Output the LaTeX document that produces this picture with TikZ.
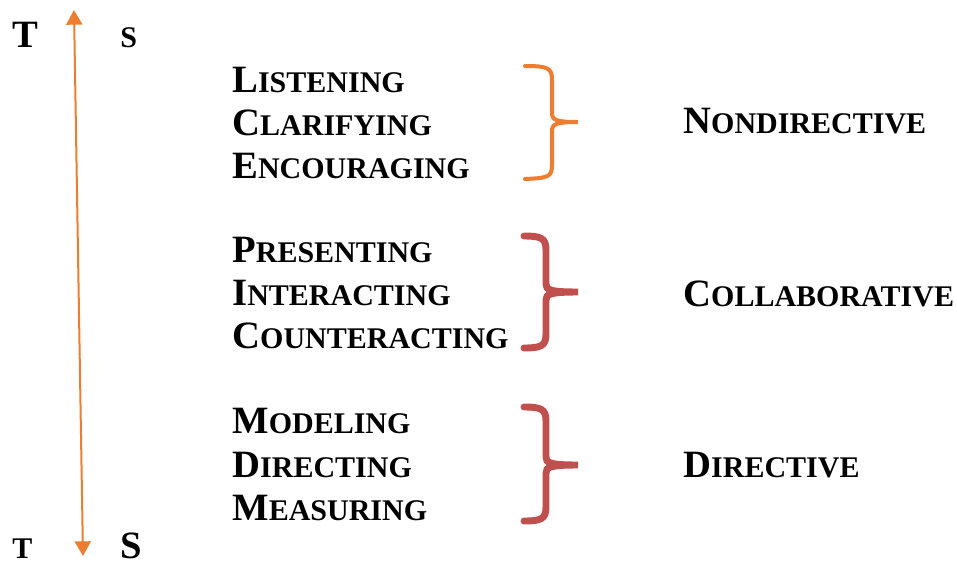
\documentclass[tikz,border=0pt]{standalone}
\usepackage{fontspec}
\setmainfont{Liberation Serif}
\usepackage{xcolor}
\usetikzlibrary{arrows.meta}

\definecolor{accorange}{HTML}{ED7D31}
\definecolor{accred}{HTML}{C0504D}

% faked small caps: first letter full size, the rest smaller
\newcommand{\capfull}{\fontsize{29}{34}\selectfont\bfseries}
\newcommand{\capsmall}{\fontsize{22.5}{27}\selectfont\bfseries}
\newcommand{\fsc}[2]{{\capfull #1}{\capsmall #2}}

\tikzset{
  word/.style = {anchor = base west, inner sep = 0pt},
  thinbrace/.style = {draw = accorange, line width = 3pt, line cap = round},
  thickbrace/.style = {draw = accred, line width = 5.2pt, line cap = round}
}

\begin{document}
\begin{tikzpicture}[x = 0.75pt, y = -0.75pt]
        \useasboundingbox (0,0) rectangle (957,565);

        % scale on the left
        \coordinate (top) at (74,10);
        \coordinate (bottom) at (83,556);
        \draw[accorange, line width = 1.5pt, {Triangle[width=12pt,length=11pt]}-{Triangle[width=12pt,length=11pt]}] (top) -- (bottom);
        \node[word] (tTop) at (12,47) {\capfull T};
        \node[word] (sTop) at (120,47) {\capsmall S};
        \node[word] (tBot) at (12,558) {\capsmall T};
        \node[word] (sBot) at (120,558) {\capfull S};

        % behaviours
        \node[word] (listen) at (232,92) {\fsc{L}{ISTENING}};
        \node[word] (clarify) at (232,135) {\fsc{C}{LARIFYING}};
        \node[word] (encourage) at (232,178) {\fsc{E}{NCOURAGING}};

        \node[word] (present) at (232,262) {\fsc{P}{RESENTING}};
        \node[word] (interact) at (232,305) {\fsc{I}{NTERACTING}};
        \node[word] (counter) at (232,348) {\fsc{C}{OUNTERACTING}};

        \node[word] (model) at (232,433) {\fsc{M}{ODELING}};
        \node[word] (direct) at (232,477) {\fsc{D}{IRECTING}};
        \node[word] (measure) at (232,520) {\fsc{M}{EASURING}};

        % braces
        \draw[thinbrace] (525,66) .. controls (548,66) and (552,68) .. (552,80) -- (552,113)
            .. controls (552,120) and (556,122) .. (578,122)
            .. controls (556,122) and (552,124) .. (552,131) -- (552,165)
            .. controls (552,177) and (548,178) .. (525,179);
        \draw[thickbrace] (524,236) .. controls (541,236) and (546,238) .. (546,250) -- (546,284)
            .. controls (546,290) and (550,292) .. (578,292)
            .. controls (550,292) and (546,294) .. (546,300) -- (546,334)
            .. controls (546,346) and (541,348) .. (524,348);
        \draw[thickbrace] (524,407) .. controls (541,407) and (546,409) .. (546,421) -- (546,457)
            .. controls (546,463) and (550,465) .. (578,465)
            .. controls (550,465) and (546,467) .. (546,473) -- (546,507)
            .. controls (546,519) and (541,521) .. (524,521);

        % styles
        \node[word] (nondir) at (683,133) {\fsc{N}{ONDIRECTIVE}};
        \node[word] (collab) at (683,306) {\fsc{C}{OLLABORATIVE}};
        \node[word] (dir) at (683,477) {\fsc{D}{IRECTIVE}};
    \end{tikzpicture}
\end{document}
